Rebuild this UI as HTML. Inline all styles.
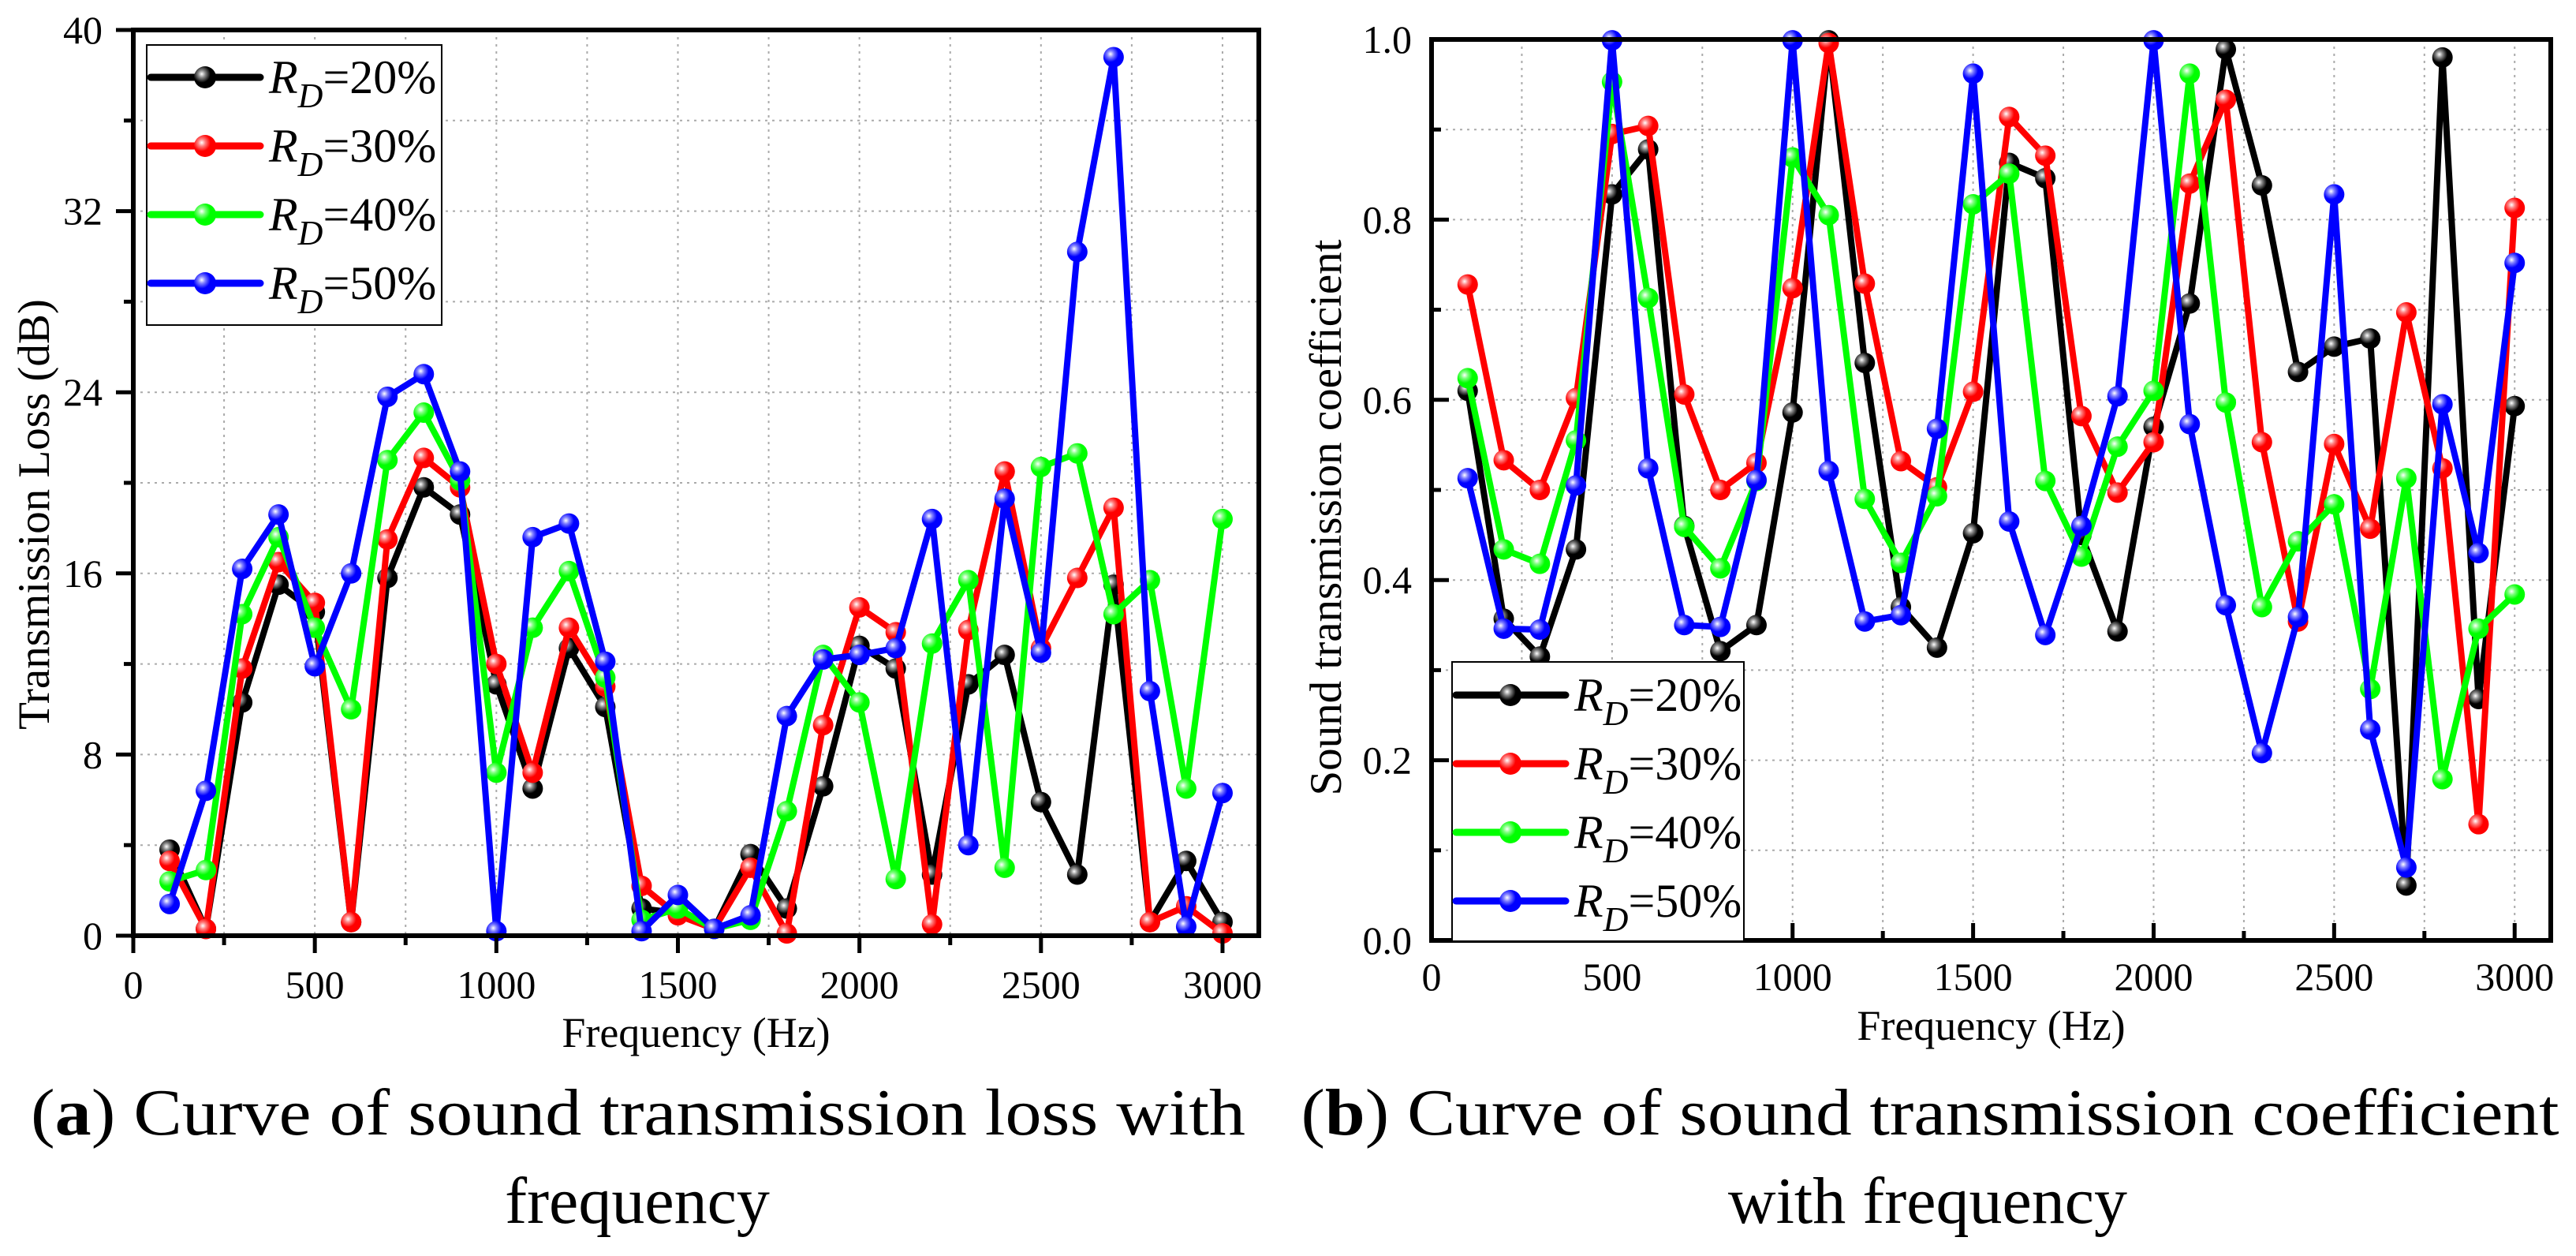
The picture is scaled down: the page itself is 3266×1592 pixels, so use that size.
<!DOCTYPE html>
<html><head><meta charset="utf-8"><style>
html,body{margin:0;padding:0;background:#fff;}
svg{display:block;font-family:"Liberation Serif",serif;}
</style></head><body>
<svg id="svg" width="3266" height="1592" viewBox="0 0 3266 1592" xmlns="http://www.w3.org/2000/svg">
<defs>
<radialGradient id="gk" cx="0.35" cy="0.35" r="0.65"><stop offset="0" stop-color="#fff"/><stop offset="0.25" stop-color="#888"/><stop offset="0.6" stop-color="#000"/></radialGradient>
<radialGradient id="gr" cx="0.35" cy="0.35" r="0.65"><stop offset="0" stop-color="#fff"/><stop offset="0.25" stop-color="#ff8080"/><stop offset="0.6" stop-color="#f00"/></radialGradient>
<radialGradient id="gg" cx="0.35" cy="0.35" r="0.65"><stop offset="0" stop-color="#fff"/><stop offset="0.25" stop-color="#80ff80"/><stop offset="0.6" stop-color="#0f0"/></radialGradient>
<radialGradient id="gb" cx="0.35" cy="0.35" r="0.65"><stop offset="0" stop-color="#fff"/><stop offset="0.25" stop-color="#8080ff"/><stop offset="0.6" stop-color="#00f"/></radialGradient>
</defs>
<g id="chartA"></g>
<g id="chartB"></g>
<text x="809" y="1438" font-size="84" text-anchor="middle" textLength="1540" lengthAdjust="spacingAndGlyphs">(<tspan font-weight="bold">a</tspan>) Curve of sound transmission loss with</text>
<text x="808" y="1550" font-size="84" text-anchor="middle">frequency</text>
<text x="2447" y="1438" font-size="84" text-anchor="middle" textLength="1595" lengthAdjust="spacingAndGlyphs">(<tspan font-weight="bold">b</tspan>) Curve of sound transmission coefficient</text>
<text x="2444" y="1550" font-size="84" text-anchor="middle">with frequency</text>
</svg>
<script>
const freqs = [100,200,300,400,500,600,700,800,900,1000,1100,1200,1300,1400,1500,1600,1700,1800,1900,2000,2100,2200,2300,2400,2500,2600,2700,2800,2900,3000];
const seriesLabels = ["20%","30%","40%","50%"];
const tl20 = [3.8,0.3,10.3,15.5,14.3,0.6,15.8,19.8,18.6,11.1,6.5,12.7,10.1,1.2,1.0,0.3,3.6,1.2,6.6,12.8,11.8,2.7,11.1,12.4,5.9,2.7,15.5,0.6,3.3,0.6];
const tl30 = [3.3,0.3,11.8,16.5,14.7,0.6,17.5,21.1,19.8,12.0,7.2,13.6,11.0,2.2,0.9,0.3,3.0,0.1,9.3,14.5,13.4,0.5,13.5,20.5,12.7,15.8,18.9,0.6,1.3,0.1];
const tl40 = [2.4,2.9,14.2,17.6,13.6,10.0,21.0,23.1,20.1,7.2,13.6,16.1,11.4,0.7,1.2,0.3,0.7,5.5,12.4,10.3,2.5,12.9,15.7,3.0,20.7,21.3,14.2,15.7,6.5,18.4];
const tl50 = [1.4,6.4,16.2,18.6,11.9,16.0,23.8,24.8,20.5,0.2,17.6,18.2,12.1,0.2,1.8,0.3,0.9,9.7,12.2,12.4,12.7,18.4,4.0,19.3,12.5,30.2,38.8,10.8,0.4,6.3];
const tc20 = [0.610,0.357,0.315,0.434,0.828,0.878,0.46,0.321,0.350,0.586,0.999,0.641,0.370,0.325,0.452,0.863,0.846,0.45,0.343,0.570,0.707,0.989,0.838,0.631,0.659,0.668,0.061,0.980,0.268,0.593];
const tc30 = [0.728,0.533,0.500,0.602,0.895,0.904,0.606,0.500,0.530,0.724,0.996,0.729,0.532,0.503,0.609,0.914,0.871,0.582,0.497,0.553,0.840,0.933,0.553,0.354,0.551,0.457,0.697,0.524,0.129,0.813];
const tc40 = [0.624,0.434,0.418,0.555,0.953,0.713,0.459,0.413,0.51,0.869,0.805,0.490,0.419,0.493,0.817,0.851,0.510,0.426,0.548,0.610,0.962,0.597,0.370,0.443,0.484,0.279,0.513,0.179,0.346,0.384];
const tc50 = [0.513,0.346,0.345,0.505,0.999,0.524,0.350,0.348,0.511,0.999,0.521,0.354,0.361,0.568,0.962,0.465,0.339,0.460,0.604,0.999,0.573,0.372,0.208,0.359,0.828,0.234,0.081,0.595,0.430,0.752];
const xTicks = [0,500,1000,1500,2000,2500,3000];
const yTicksA = [0,8,16,24,32,40];
const yTicksB = ["0.0","0.2","0.4","0.6","0.8","1.0"];

const NS = "http://www.w3.org/2000/svg";
const colors = ["#000","#f00","#0f0","#00f"];
const grads = ["gk","gr","gg","gb"];
function mk(parent, tag, attrs){const e=document.createElementNS(NS,tag);for(const k in attrs)e.setAttribute(k,attrs[k]);parent.appendChild(e);return e;}

function drawChart(g, cfg){
  const {L,T,R,B,xMax,yMin,yMax,yMinorStep,inward,series,yLabels,yVals,yLabelRight,xLabelY,xTitleY,yTitle,yTitleX,legend}=cfg;
  const sx=v=>L+(v/xMax)*(R-L);
  const sy=v=>B-(v-yMin)/(yMax-yMin)*(B-T);
  for(let f=250;f<xMax;f+=250){
    const l=mk(g,"line",{x1:sx(f),x2:sx(f),y1:T,y2:B,stroke:"#aaa","stroke-width":2,"stroke-dasharray":"3,6"});
    
    
  }
  for(let v=yMin+yMinorStep;v<yMax-1e-9;v+=yMinorStep){
    const l=mk(g,"line",{x1:L,x2:R,y1:sy(v),y2:sy(v),stroke:"#aaa","stroke-width":2,"stroke-dasharray":"3,6"});
    
    
  }
  series.forEach((vals,si)=>{
    const pts=freqs.map((f,i)=>sx(f)+","+sy(vals[i])).join(" ");
    const pl=mk(g,"polyline",{points:pts,fill:"none",stroke:colors[si],"stroke-width":8,"stroke-linejoin":"round"});
    
    
    freqs.forEach((f,i)=>{
      const c=mk(g,"circle",{cx:sx(f),cy:sy(vals[i]),r:13,fill:"url(#"+grads[si]+")"});
      
      
    });
  });
  const fr=mk(g,"rect",{x:L,y:T,width:R-L,height:B-T,fill:"none",stroke:"#000","stroke-width":6});
  
  
  const dir=inward?-1:1;
  for(let f=0;f<=xMax;f+=250){
    const major=f%500===0;
    const len=major?22:12;
    const t=mk(g,"line",{x1:sx(f),x2:sx(f),y1:B,y2:B+dir*len,stroke:"#000","stroke-width":5});
    
    
  }
  xTicks.forEach(f=>{
    const t=mk(g,"text",{x:sx(f),y:xLabelY,"font-size":50,"text-anchor":"middle"});
    t.textContent=f;
    
    
  });
  for(let v=yMin;v<=yMax+1e-9;v+=yMinorStep){
    const major=Math.abs(((v-yMin)/(yMinorStep*2))-Math.round((v-yMin)/(yMinorStep*2)))<1e-6;
    const len=major?22:12;
    const t=mk(g,"line",{x1:L,x2:L-dir*len,y1:sy(v),y2:sy(v),stroke:"#000","stroke-width":5});
    
    
  }
  yLabels.forEach((lab,i)=>{
    const t=mk(g,"text",{x:yLabelRight,y:sy(yVals[i])+17,"font-size":50,"text-anchor":"end"});
    t.textContent=lab;
    
    
  });
  const xt=mk(g,"text",{x:(L+R)/2,y:xTitleY,"font-size":54,"text-anchor":"middle"});
  xt.textContent="Frequency (Hz)";
  
  
  const yc=(T+B)/2+cfg.yTitleShift;
  const yt=mk(g,"text",{x:yTitleX,y:yc,"font-size":57,"text-anchor":"middle",transform:"rotate(-90 "+yTitleX+" "+yc+")"});
  yt.textContent=yTitle;
  
  
  const lg=mk(g,"g",{});
  
  
  const lb=mk(lg,"rect",{x:legend.x,y:legend.y,width:legend.w,height:legend.h,fill:"#fff",stroke:"#000","stroke-width":2});
  
  
  seriesLabels.forEach((s,i)=>{
    const cy=legend.y0+i*87;
    const e=mk(lg,"g",{});
    
    
    mk(e,"line",{x1:legend.x+5,x2:legend.x+144,y1:cy,y2:cy,stroke:colors[i],"stroke-width":9,"stroke-linecap":"round"});
    mk(e,"circle",{cx:legend.x+74,cy:cy,r:14,fill:"url(#"+grads[i]+")"});
    const t=mk(e,"text",{x:legend.x+155,y:cy+20,"font-size":60});
    t.innerHTML='<tspan font-style="italic">R</tspan><tspan font-style="italic" font-size="44" dy="18">D</tspan><tspan dy="-18">='+s+'</tspan>';
  });
}

drawChart(document.getElementById("chartA"),{
  L:169,T:38,R:1596,B:1186,xMax:3100,yMin:0,yMax:40,yMinorStep:4,inward:false,
  series:[tl20,tl30,tl40,tl50],yLabels:yTicksA.map(String),yVals:yTicksA,yLabelRight:130,
  xLabelY:1265,xTitleY:1327,yTitle:"Transmission Loss (dB)",yTitleX:62,yTitleShift:40,
  legend:{x:186,y:57,w:374,h:355,y0:98}
});
drawChart(document.getElementById("chartB"),{
  L:1815,T:50,R:3234,B:1192,xMax:3100,yMin:0,yMax:1,yMinorStep:0.1,inward:true,
  series:[tc20,tc30,tc40,tc50],yLabels:yTicksB,yVals:yTicksB.map(Number),yLabelRight:1790,
  xLabelY:1255,xTitleY:1318,yTitle:"Sound transmission coefficient",yTitleX:1700,yTitleShift:35,
  legend:{x:1841,y:839,w:370,h:354,y0:881}
});
</script>
</body></html>
